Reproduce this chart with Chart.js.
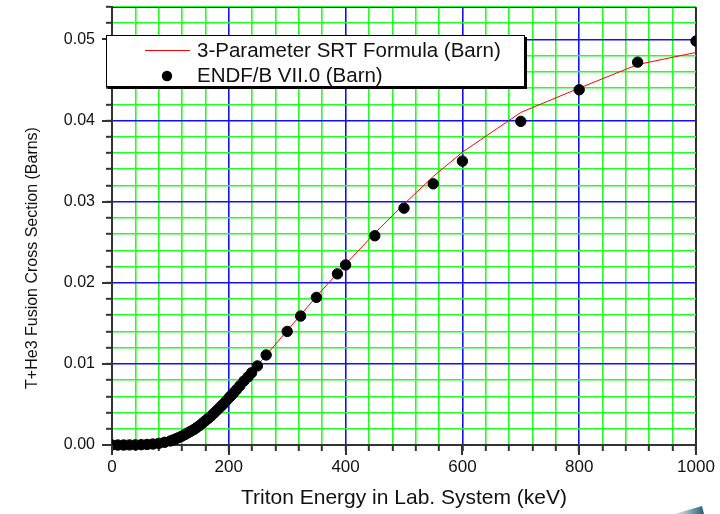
<!DOCTYPE html>
<html>
<head>
<meta charset="utf-8">
<script src="https://cdn.jsdelivr.net/npm/chart.js@4/dist/chart.umd.min.js"></script>
<style>
  html, body { margin: 0; padding: 0; background: #ffffff; }
  #wrap { width: 720px; height: 514px; }
</style>
</head>
<body>
<div id="wrap"><canvas id="c" width="720" height="514"></canvas></div>
<script>
// ENDF/B VII.0 evaluated points (energy keV, cross section barn)
const endfEnergy = [0, 10, 20, 30, 40, 50, 60, 70, 80, 90, 100, 105, 110, 115, 120, 125, 130, 135, 140, 145, 150, 155, 160, 165, 170, 175, 180, 185, 190, 195, 200, 204, 208, 213, 219, 226, 233, 239, 249, 264, 300, 323, 350, 386, 400, 450, 500, 550, 600, 700, 800, 900, 1000];
const endfSigma  = [0, 0, 0, 0.00001, 0.00002, 0.00004, 0.00007, 0.00012, 0.0002, 0.00033, 0.0005, 0.00063, 0.00078, 0.00094, 0.0011, 0.0013, 0.0015, 0.0017, 0.0019, 0.00215, 0.0024, 0.0027, 0.003, 0.0033, 0.0036, 0.00395, 0.0043, 0.00465, 0.005, 0.0054, 0.0058, 0.0061, 0.0064, 0.0068, 0.0073, 0.0079, 0.0084, 0.0089, 0.00975, 0.0111, 0.0140, 0.0159, 0.0182, 0.0211, 0.0222, 0.0258, 0.0292, 0.0322, 0.0350, 0.0399, 0.0438, 0.0472, 0.0498];

// 3-Parameter SRT formula curve
const srtEnergy = [0, 50, 80, 100, 120, 140, 160, 180, 200, 225, 250, 275, 300, 350, 400, 450, 500, 550, 600, 700, 800, 900, 1000];
const srtSigma  = [0, 0.00004, 0.0002, 0.0005, 0.0011, 0.0019, 0.003, 0.0043, 0.0058, 0.0079, 0.0099, 0.0120, 0.0141, 0.0183, 0.0223, 0.0261, 0.0297, 0.0331, 0.0361, 0.0410, 0.0440, 0.0469, 0.0484];

// Axis ticks
const xTicks = [0, 40, 80, 120, 160, 200, 240, 280, 320, 360, 400, 440, 480, 520, 560, 600, 640, 680, 720, 760, 800, 840, 880, 920, 960, 1000];
const xLabelTicks = [0, 200, 400, 600, 800, 1000];
const yTicks = [0, 0.002, 0.004, 0.006, 0.008, 0.01, 0.012, 0.014, 0.016, 0.018, 0.02, 0.022, 0.024, 0.026, 0.028, 0.03, 0.032, 0.034, 0.036, 0.038, 0.04, 0.042, 0.044, 0.046, 0.048, 0.05, 0.052, 0.054];
const yLabelTicks = [0, 0.01, 0.02, 0.03, 0.04, 0.05];

const seriesNames = ['3-Parameter SRT Formula (Barn)', 'ENDF/B VII.0 (Barn)'];
const xTitle = 'Triton Energy in Lab. System (keV)';
const yTitle = 'T+He3 Fusion Cross Section (Barns)';

const FONT = "'Liberation Sans', Arial, sans-serif";
const GREEN = '#22ff22';
const BLUE = '#1010ff';
const AXIS = '#333333';

const isMajorX = v => xLabelTicks.some(t => Math.abs(t - v) < 1e-6);
const isMajorY = v => yLabelTicks.some(t => Math.abs(t - v) < 1e-9);

const endfData = endfEnergy.map((e, i) => ({x: e, y: endfSigma[i]}));
const srtData = srtEnergy.map((e, i) => ({x: e, y: srtSigma[i]}));

const decor = {
  id: 'decor',
  afterDraw(chart) {
    const ctx = chart.ctx;
    const a = chart.chartArea;
    const xs = chart.scales.x, ys = chart.scales.y;
    ctx.save();
    // top and right frame
    ctx.strokeStyle = AXIS;
    ctx.lineWidth = 1;
    ctx.beginPath();
    ctx.moveTo(a.left, a.top + 0.5);
    ctx.lineTo(a.right + 0.5, a.top + 0.5);
    ctx.lineTo(a.right + 0.5, a.bottom);
    ctx.stroke();
    // longer major tick marks
    ctx.lineWidth = 2;
    ctx.beginPath();
    xLabelTicks.forEach(v => {
      const px = Math.round(xs.getPixelForValue(v));
      ctx.moveTo(px, a.bottom);
      ctx.lineTo(px, a.bottom + 10);
    });
    yLabelTicks.forEach(v => {
      const py = Math.round(ys.getPixelForValue(v));
      ctx.moveTo(a.left, py);
      ctx.lineTo(a.left - 10, py);
    });
    ctx.stroke();

    // legend box
    const L = 106, T = 35, R = 525, B = 87;
    ctx.fillStyle = '#000';
    ctx.fillRect(L + 2, T + 2, R - L, B - T);
    ctx.fillStyle = '#fff';
    ctx.fillRect(L, T, R - L, B - T);
    ctx.strokeStyle = '#000';
    ctx.lineWidth = 1;
    ctx.strokeRect(L + 0.5, T + 0.5, R - L - 1, B - T - 1);
    ctx.strokeStyle = '#ff0000';
    ctx.beginPath();
    ctx.moveTo(145, 50.5);
    ctx.lineTo(190, 50.5);
    ctx.stroke();
    ctx.fillStyle = '#000';
    ctx.beginPath();
    ctx.arc(167, 76, 5.2, 0, Math.PI * 2);
    ctx.fill();
    ctx.fillStyle = '#111';
    ctx.font = '20.5px ' + FONT;
    ctx.textBaseline = 'middle';
    ctx.textAlign = 'left';
    ctx.fillText(seriesNames[0], 197, 51);
    ctx.fillText(seriesNames[1], 197, 76);

    // axis titles
    ctx.font = '21px ' + FONT;
    ctx.textAlign = 'center';
    ctx.fillText(xTitle, 404, 498);
    ctx.save();
    ctx.translate(33, 258);
    ctx.rotate(-Math.PI / 2);
    ctx.font = '16px ' + FONT;
    ctx.fillText(yTitle, 0, 0);
    ctx.restore();

    // corner decoration
    const g = ctx.createLinearGradient(676, 0, 704, 0);
    g.addColorStop(0, 'rgba(47,111,128,0.15)');
    g.addColorStop(1, 'rgba(35,95,115,1)');
    ctx.fillStyle = g;
    ctx.beginPath();
    ctx.moveTo(674, 514);
    ctx.lineTo(702, 506);
    ctx.lineTo(704, 514);
    ctx.closePath();
    ctx.fill();
    ctx.restore();
  }
};

new Chart(document.getElementById('c'), {
  type: 'scatter',
  data: {
    datasets: [
      {
        label: seriesNames[1],
        data: endfData,
        backgroundColor: '#000',
        borderColor: '#000',
        pointRadius: 5.2,
        pointHoverRadius: 5.2,
        showLine: false,
        clip: {left: 0, right: 0, top: 8, bottom: 8},
        order: 0
      },
      {
        label: seriesNames[0],
        data: srtData,
        type: 'line',
        borderColor: '#ff0000',
        borderWidth: 1,
        pointRadius: 0,
        tension: 0,
        fill: false,
        clip: 0,
        order: 1
      }
    ]
  },
  options: {
    responsive: false,
    animation: false,
    events: [],
    layout: { padding: { left: 0, right: 24, top: 7, bottom: 0 } },
    plugins: { legend: { display: false }, tooltip: { enabled: false }, title: { display: false } },
    scales: {
      x: {
        type: 'linear',
        min: 0, max: 1000,
        afterBuildTicks: s => { s.ticks = xTicks.map(v => ({value: v})); },
        afterFit: s => { s.height = 69; s.paddingLeft = 0; s.paddingRight = 0; },
        ticks: {
          autoSkip: false, maxRotation: 0, minRotation: 0,
          padding: 6,
          color: '#111',
          font: { family: FONT, size: 17 },
          callback: v => isMajorX(v) ? String(Math.round(v)) : ''
        },
        grid: {
          color: c => isMajorX(c.tick.value) ? BLUE : GREEN,
          lineWidth: c => (c.tick.value === 0 ? 0 : 1.6),
          drawTicks: true, tickLength: 6, tickColor: AXIS, tickWidth: 2
        },
        border: { display: true, color: AXIS, width: 2 }
      },
      y: {
        type: 'linear',
        min: 0, max: 0.054,
        afterBuildTicks: s => { s.ticks = yTicks.map(v => ({value: v})); },
        afterFit: s => { s.width = 112; s.paddingTop = 0; s.paddingBottom = 0; },
        ticks: {
          autoSkip: false,
          padding: 11,
          color: '#111',
          font: { family: FONT, size: 16 },
          callback: v => isMajorY(v) ? v.toFixed(2) : ''
        },
        grid: {
          color: c => isMajorY(c.tick.value) ? BLUE : GREEN,
          lineWidth: c => (c.tick.value === 0 ? 0 : 1.6),
          drawTicks: true, tickLength: 6, tickColor: AXIS, tickWidth: 2
        },
        border: { display: true, color: AXIS, width: 2 }
      }
    }
  },
  plugins: [decor]
});
</script>
</body>
</html>
